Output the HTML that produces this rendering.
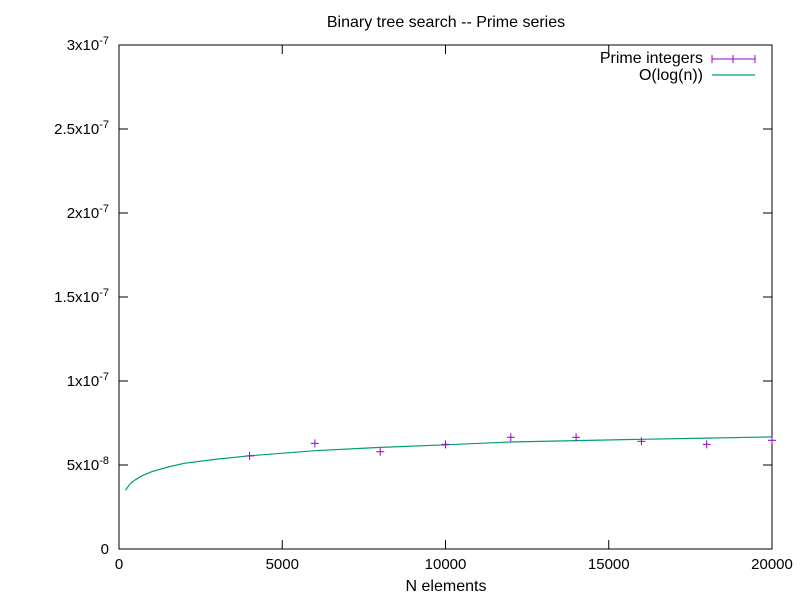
<!DOCTYPE html>
<html><head><meta charset="utf-8"><style>
body{margin:0;background:#fff}
svg{display:block;font-family:"Liberation Sans",sans-serif}
</style></head><body>
<svg id="c" width="800" height="600" viewBox="0 0 800 600">
<rect width="800" height="600" fill="#fff"/>
<text x="446" y="27" font-size="16" text-anchor="middle">Binary tree search -- Prime series</text>
<text x="446" y="591" font-size="16" text-anchor="middle">N elements</text>
<g id="axes"></g>
<g id="marks"></g>
<g>
<text x="703" y="63" font-size="16" text-anchor="end">Prime integers</text>
<g stroke="#9400d3" stroke-width="1">
<line x1="712" y1="59" x2="755" y2="59"/><line x1="712" y1="55" x2="712" y2="63"/><line x1="755" y1="55" x2="755" y2="63"/><line x1="733" y1="55" x2="733" y2="63"/></g>
<text x="703" y="80" font-size="16" text-anchor="end">O(log(n))</text>
<line x1="712" y1="75" x2="755" y2="75" stroke="#009e73" stroke-width="1.2"/>
</g>
</svg>
<script>
const xTicks=[0,5000,10000,15000,20000];
const yTicks=[0,5e-8,1e-7,1.5e-7,2e-7,2.5e-7,3e-7];
const yTickLabels=["0","5x10-8","1x10-7","1.5x10-7","2x10-7","2.5x10-7","3x10-7"];
const primeN=[4000,6000,8000,10000,12000,14000,16000,18000,20000];
const primeT=[5.54e-8,6.29e-8,5.79e-8,6.23e-8,6.65e-8,6.65e-8,6.41e-8,6.23e-8,6.47e-8];
const fitN=[200,300,400,500,700,1000,1500,2000,3000,4000,6000,8000,10000,12000,14000,16000,18000,20000];
const fitT=[3.49e-8,3.78e-8,3.98e-8,4.12e-8,4.36e-8,4.6e-8,4.88e-8,5.1e-8,5.35e-8,5.55e-8,5.85e-8,6.05e-8,6.2e-8,6.37e-8,6.45e-8,6.53e-8,6.6e-8,6.67e-8];
const X0=119,X1=772,Y0=549,Y1=45;
const sx=v=>X0+(v-0)/(20000)*(X1-X0);
const sy=v=>Y0-(v/3e-7)*(Y0-Y1);
const NS="http://www.w3.org/2000/svg";
function mk(p,t,a){const e=document.createElementNS(NS,t);for(const k in a)e.setAttribute(k,a[k]);p.appendChild(e);return e;}
const ax=document.getElementById('axes'),mg=document.getElementById('marks');
const frame=mk(ax,'rect',{x:X0,y:Y1,width:X1-X0,height:Y0-Y1,fill:'none',stroke:'#000','stroke-width':1});


xTicks.forEach(v=>{const x=sx(v);
 mk(ax,'line',{x1:x,y1:Y0,x2:x,y2:Y0-9,stroke:'#000'});
 mk(ax,'line',{x1:x,y1:Y1,x2:x,y2:Y1+9,stroke:'#000'});
 const t=mk(ax,'text',{x:x,y:Y0+20,'font-size':15,'text-anchor':'middle'});t.textContent=v;
 
 
});
yTicks.forEach((v,i)=>{const y=sy(v);
 mk(ax,'line',{x1:X0,y1:y,x2:X0+9,y2:y,stroke:'#000'});
 mk(ax,'line',{x1:X1,y1:y,x2:X1-9,y2:y,stroke:'#000'});
 const t=mk(ax,'text',{x:X0-10,y:y+5,'font-size':15,'text-anchor':'end'});
 const lab=yTickLabels[i];const m=lab.match(/^(.*x10)(-\d+)$/);
 if(m){t.textContent=m[1];const s=mk(t,'tspan',{dy:-6,'font-size':11});s.textContent=m[2];}else t.textContent=lab;
 
 
});
const pts=fitN.map((n,i)=>sx(n).toFixed(1)+','+sy(fitT[i]).toFixed(1)).join(' ');
const fl=mk(mg,'polyline',{points:pts,fill:'none',stroke:'#009e73','stroke-width':1.2});


primeN.forEach((n,i)=>{const x=sx(n),y=sy(primeT[i]);
 const g=mk(mg,'g',{stroke:'#9400d3','stroke-width':1});
 
 
 mk(g,'line',{x1:x-4,y1:y,x2:x+4,y2:y});mk(g,'line',{x1:x,y1:y-4,x2:x,y2:y+4});
});
</script>
</body></html>
